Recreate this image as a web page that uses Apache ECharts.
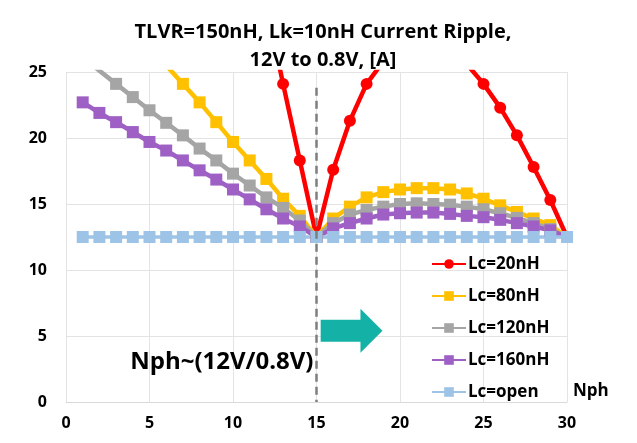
<!DOCTYPE html>
<html>
<head>
<meta charset="utf-8">
<script src="https://cdn.jsdelivr.net/npm/echarts@6/dist/echarts.min.js"></script>
<style>
html,body{margin:0;padding:0;background:#fff;}
#c{width:637px;height:443px;}
</style>
</head>
<body>
<div id="c"></div>
<script>
var nph = [1,2,3,4,5,6,7,8,9,10,11,12,13,14,15,16,17,18,19,20,21,22,23,24,25,26,27,28,29,30];
var lc20 = [null,null,null,null,null,null,null,null,null,null,null,30.0,24.1,18.3,12.5,17.6,21.3,24.1,25.8,26.8,27.3,27.3,26.8,25.6,24.1,22.3,20.2,17.8,15.3,12.5];
var lc80 = [32.8,31.3,29.9,28.4,27.0,25.5,24.1,22.7,21.2,19.7,18.3,16.9,15.4,14.1,12.5,13.9,14.8,15.5,15.9,16.1,16.2,16.2,16.1,15.8,15.4,14.9,14.4,13.9,13.4,12.5];
var lc120 = [26.1,25.1,24.1,23.1,22.1,21.15,20.2,19.2,18.3,17.3,16.4,15.5,14.7,13.75,12.5,13.55,14.2,14.55,14.8,15.0,15.05,15.0,14.95,14.8,14.6,14.3,13.95,13.55,13.1,12.5];
var lc160 = [22.7,21.9,21.2,20.45,19.7,19.05,18.3,17.55,16.85,16.1,15.35,14.6,13.9,13.3,12.5,13.15,13.55,13.9,14.2,14.3,14.35,14.35,14.25,14.1,14.0,13.8,13.55,13.3,13.0,12.5];
var lcOpen = [12.5,12.5,12.5,12.5,12.5,12.5,12.5,12.5,12.5,12.5,12.5,12.5,12.5,12.5,12.5,12.5,12.5,12.5,12.5,12.5,12.5,12.5,12.5,12.5,12.5,12.5,12.5,12.5,12.5,12.5];
var seriesNames = ['Lc=20nH','Lc=80nH','Lc=120nH','Lc=160nH','Lc=open'];
var titleText = 'TLVR=150nH, Lk=10nH Current Ripple,\n12V to 0.8V, [A]';
var noteText = 'Nph~(12V/0.8V)';
var xName = 'Nph';
var nphMarker = 15;

var FONT = '"Open Sans", "Noto Sans", sans-serif';
function pairs(arr){ return nph.map(function(x,i){ return [x, arr[i]]; }); }

var chart = echarts.init(document.getElementById('c'), null, {renderer:'canvas'});
var colors = ['#FF0000','#FFC000','#A5A5A5','#9E60C4','#9DC3E6'];
var datas = [lc20, lc80, lc120, lc160, lcOpen];
var series = datas.map(function(d, i){
  var s = {
    name: seriesNames[i],
    type: 'line',
    data: pairs(d),
    symbol: i === 0 ? 'circle' : 'rect',
    symbolSize: i === 0 ? 12 : 12,
    showAllSymbol: true,
    clip: true,
    connectNulls: false,
    itemStyle: {color: colors[i]},
    lineStyle: {color: colors[i], width: i === 4 ? 3.5 : 4.5},
    emphasis: {disabled: true},
    animation: false
  };
  if (i === 4) {
    s.markLine = {
      silent: true,
      symbol: ['none','none'],
      label: {show:false},
      lineStyle: {color:'#7F7F7F', type:[8,5], width:2.5},
      data: [[{coord:[nphMarker, 23.8]},{coord:[nphMarker, 0]}]]
    };
  }
  return s;
});

chart.setOption({
  animation: false,
  backgroundColor: '#fff',
  title: {
    text: titleText,
    left: 318, textAlign: 'center',
    top: 13,
    textStyle: {fontFamily: FONT, fontWeight: 'bold', fontSize: 20, lineHeight: 28, color: '#000'}
  },
  grid: {left: 66, right: 70, top: 72, bottom: 41, containLabel: false},
  legend: {
    orient: 'vertical',
    left: 426, top: 249,
    itemWidth: 34, itemHeight: 12,
    itemGap: 12,
    data: seriesNames,
    textStyle: {fontFamily: FONT, fontWeight: 'bold', fontSize: 17, color: '#000', lineHeight: 20, padding: [0,0,0,-3]}
  },
  xAxis: {
    type: 'value', min: 0, max: 30, interval: 5,
    axisLine: {show: true, lineStyle: {color: '#D9D9D9', width: 1}},
    axisTick: {show: false},
    splitLine: {show: true, lineStyle: {color: '#E3E3E3', width: 1}},
    axisLabel: {fontFamily: FONT, fontWeight: 'bold', fontSize: 16, color: '#000', margin: 13}
  },
  yAxis: {
    type: 'value', min: 0, max: 25, interval: 5,
    axisLine: {show: false},
    axisTick: {show: false},
    splitLine: {show: true, lineStyle: {color: '#E3E3E3', width: 1}},
    axisLabel: {fontFamily: FONT, fontWeight: 'bold', fontSize: 16, color: '#000', margin: 19}
  },
  series: series
});

var tip = chart.convertToPixel({gridIndex:0}, [18.95, 5.4]);
var base = chart.convertToPixel({gridIndex:0}, [15.25, 5.4]);
var ax = base[0], tx = tip[0], cy = tip[1];
var hx = tx - 22;
chart.setOption({
  graphic: [
    {type:'polygon', silent:true, z:10,
     shape:{points:[[ax,cy-11],[hx,cy-11],[hx,cy-22],[tx,cy],[hx,cy+22],[hx,cy+11],[ax,cy+11]]},
     style:{fill:'#14B2A6'}},
    {type:'text', silent:true, z:10, x: chart.convertToPixel({gridIndex:0},[nphMarker,0])[0]-3, y: 362,
     style:{text: noteText, align:'right', verticalAlign:'middle', fontFamily: FONT, fontWeight:'bold', fontSize: 24, fill:'#000'}},
    {type:'text', silent:true, z:10, x: 573, y: 391,
     style:{text: xName, align:'left', verticalAlign:'middle', fontFamily: FONT, fontWeight:'bold', fontSize: 17, fill:'#000'}}
  ]
});
</script>
</body>
</html>
